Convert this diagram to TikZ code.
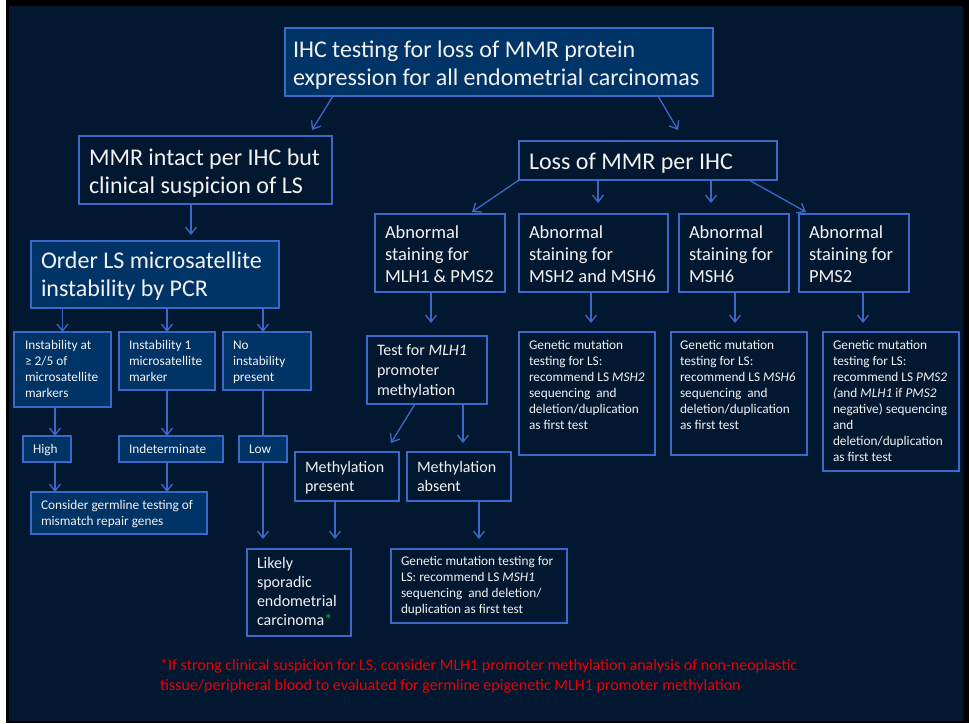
\documentclass[tikz,border=0pt]{standalone}
\usepackage{fontspec}
\setmainfont{Carlito}
\usetikzlibrary{arrows.meta,calc}
\definecolor{bgc}{RGB}{2,24,49}
\definecolor{fillc}{RGB}{0,51,102}
\definecolor{bc}{RGB}{60,105,200}
\definecolor{tc}{RGB}{242,242,242}
\definecolor{redc}{RGB}{235,0,0}
\definecolor{grn}{RGB}{0,176,80}
% width, height, fontsize, skip, first baseline, text
\newcommand\bx[6]{\parbox[c][#2pt][t]{#1pt}{\raggedright\fontsize{#3pt}{#4pt}\selectfont\rule{0pt}{#5pt}#6}}
\tikzset{
  box/.style={draw=bc, line width=1.4pt, inner xsep=#1, inner ysep=0pt, outer sep=0pt, anchor=north west, text=tc},
  box/.default=10pt,
  fbox/.style={box=#1, fill=fillc},
  fbox/.default=10pt,
  arr/.style={draw=bc, line width=1.3pt, -{Straight Barb[length=7pt,width=11pt]}},
  ln/.style={draw=bc, line width=1.3pt}
}
\begin{document}
\begin{tikzpicture}[x=1pt,y=-1pt]
\useasboundingbox (0,0) rectangle (969,723);
\fill[white] (0,0) rectangle (969,723);
\fill[black] (6,0) rectangle (969,723);
\fill[bgc] (9,6) rectangle (963,721);

% top level
\node[fbox=8pt] (top) at (285,28) {\bx{412}{68}{24}{28}{29}{IHC testing for loss of MMR protein\\expression for all endometrial carcinomas}};
\node[box] (mmr) at (79,136) {\bx{233}{68}{24}{28}{29}{MMR intact per IHC but\\clinical suspicion of LS}};
\node[box] (loss) at (519,141) {\bx{238}{39}{24}{28}{28}{Loss of MMR per IHC}};
\node[fbox] (ord) at (31,241) {\bx{228}{67}{24}{28}{27}{Order LS microsatellite\\instability by PCR}};

% abnormal staining
\node[box] (abn1) at (375,214) {\bx{110}{78}{18.5}{22}{24}{Abnormal\\staining for\\MLH1 \& PMS2}};
\node[box] (abn2) at (519,214) {\bx{129}{78}{18.5}{22}{24}{Abnormal\\staining for\\MSH2 and MSH6}};
\node[box] (abn3) at (679,214) {\bx{90}{78}{18.5}{22}{24}{Abnormal\\staining for\\MSH6}};
\node[box] (abn4) at (799,214) {\bx{90}{78}{18.5}{22}{24}{Abnormal\\staining for\\PMS2}};

% genetic testing boxes
\node[box] (gen2) at (519,332) {\bx{116}{123}{13.3}{16}{17}{Genetic mutation\\testing for LS:\\recommend LS \textit{MSH2}\\sequencing~ and\\deletion/duplication\\as first test}};
\node[box=9pt] (gen3) at (671,332) {\bx{118}{123}{13.3}{16}{17}{Genetic mutation\\testing for LS:\\recommend LS \textit{MSH6}\\sequencing~ and\\deletion/duplication\\as first test}};
\node[box] (gen4) at (823,332) {\bx{116}{139}{13.3}{16}{17}{Genetic mutation\\testing for LS:\\recommend LS \textit{PMS2}\\\textit{(}and \textit{MLH1} if \textit{PMS2}\\negative) sequencing\\and\\deletion/duplication\\as first test}};

% MLH1 branch
\node[box] (test) at (367,336) {\bx{100}{68}{16}{20}{19}{Test for \textit{MLH1}\\promoter\\methylation}};
\node[box] (mp) at (295,452) {\bx{84}{49}{16}{19}{20}{Methylation\\present}};
\node[box] (ma) at (407,452) {\bx{84}{49}{16}{19}{20}{Methylation\\absent}};
\node[box] (gf) at (391,549) {\bx{156}{74}{13.3}{16}{16}{Genetic mutation testing for\\LS: recommend LS \textit{MSH1}\\sequencing~ and deletion/\\duplication as first test}};
\node[box] (lik) at (247,549) {\bx{84}{87}{16}{19}{19}{Likely\\sporadic\\endometrial\\carcinoma{\color{grn}*}}};

% MSI branch
\node[fbox=11pt] (i1) at (14,332) {\bx{75}{75}{13.3}{16}{17}{Instability at\\≥ 2/5 of\\microsatellite\\markers}};
\node[fbox] (i2) at (119,332) {\bx{76}{58}{13.3}{16}{17}{Instability 1\\microsatellite\\marker}};
\node[fbox] (i3) at (223,332) {\bx{68}{58}{13.3}{16}{17}{No\\instability\\present}};
\node[fbox] (hi) at (23,436) {\bx{28}{26}{13.3}{16}{17}{High}};
\node[fbox] (ind) at (119,436) {\bx{84}{26}{13.3}{16}{17}{Indeterminate}};
\node[fbox] (low) at (239,436) {\bx{28}{26}{13.3}{16}{17}{Low}};
\node[fbox] (con) at (31,492) {\bx{156}{42}{13.3}{16}{17}{Consider germline testing of\\mismatch repair genes}};

% footnote
\node[anchor=north west, inner sep=0pt, text=redc] (foot) at (160,650) {\bx{700}{50}{16}{20}{20}{*If strong clinical suspicion for LS, consider MLH1 promoter methylation analysis of non-neoplastic\\tissue/peripheral blood to evaluated for germline epigenetic MLH1 promoter methylation}};

% connectors
\draw[arr] ($(top.south west)+(48pt,0pt)$) -- ($(mmr.north west)+(233pt,6pt)$);
\draw[arr] ($(top.south east)+(-55pt,0pt)$) -- ($(loss.north west)+(159pt,11pt)$);
\draw[arr] (loss.south west) -- ($(abn1.north west)+(97pt,2pt)$);
\draw[arr] ($(loss.south west)+(79pt,0pt)$) -- ($(abn2.north west)+(79pt,11pt)$);
\draw[arr] ($(loss.south west)+(192pt,0pt)$) -- ($(abn3.north west)+(32pt,11pt)$);
\draw[arr] ($(loss.south west)+(230pt,0pt)$) -- ($(abn4.north west)+(7pt,2pt)$);
\draw[arr] ($(mmr.south west)+(112pt,0pt)$) -- ($(ord.north west)+(160pt,6pt)$);
\draw[arr] (i1.north |- ord.south) -- (i1.north);
\draw[arr] (i2.north |- ord.south) -- (i2.north);
\draw[arr] (low.north |- ord.south) -- (low.north |- i3.north);
\draw[arr] ($(i1.south west)+(41pt,0pt)$) -- ($(hi.north west)+(32pt,0pt)$);
\draw[arr] (i2.south) -- (i2.south |- ind.north);
\draw[ln] (low.north |- i3.south) -- (low.north);
\draw[arr] ($(hi.south west)+(32pt,0pt)$) -- ($(con.north west)+(24pt,0pt)$);
\draw[arr] (i2.south |- ind.south) -- (i2.south |- con.north);
\draw[arr] (low.south) -- ($(low.south |- lik.north)+(0pt,10pt)$);
\draw[arr] ($(abn1.south west)+(56pt,0pt)$) -- ($(test.north west)+(64pt,13pt)$);
\draw[arr] ($(test.south west)+(48pt,0pt)$) -- ($(mp.north west)+(96pt,9pt)$);
\draw[arr] ($(test.south west)+(96pt,0pt)$) -- ($(ma.north west)+(56pt,9pt)$);
\draw[arr] ($(mp.south west)+(40pt,0pt)$) -- ($(lik.north west)+(88pt,10pt)$);
\draw[arr] ($(ma.south west)+(72pt,0pt)$) -- ($(gf.north west)+(88pt,10pt)$);
\draw[arr] ($(abn2.south west)+(72pt,0pt)$) -- ($(gen2.north west)+(72pt,9pt)$);
\draw[arr] ($(abn3.south west)+(56pt,0pt)$) -- ($(gen3.north west)+(64pt,9pt)$);
\draw[arr] ($(abn4.south west)+(64pt,0pt)$) -- ($(gen4.north west)+(40pt,9pt)$);
\end{tikzpicture}
\end{document}
